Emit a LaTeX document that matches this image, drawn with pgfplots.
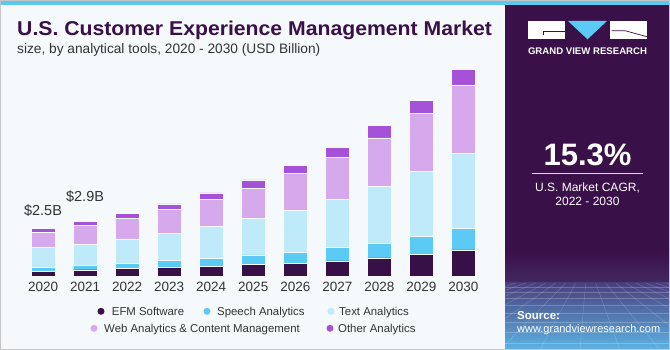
\documentclass[border=0pt]{standalone}
\usepackage{pgfplots}
\pgfplotsset{compat=1.18}
\usepackage{pgfplotstable}
\usepackage{fontspec}
\setmainfont{Liberation Sans}
\definecolor{efm}{HTML}{371047}
\definecolor{speech}{HTML}{5BCBF5}
\definecolor{textan}{HTML}{BEEAF9}
\definecolor{web}{HTML}{D5A9EC}
\definecolor{other}{HTML}{A652D8}
\definecolor{panel}{HTML}{3A1048}
\definecolor{bg}{HTML}{F5F9FC}
\definecolor{stripe}{HTML}{5BC8F0}
\definecolor{txt}{HTML}{333333}
\definecolor{gridtop}{HTML}{4A3F7E}
\definecolor{gridbot}{HTML}{5DB4E4}
\definecolor{midp}{HTML}{432860}

\pgfplotstableread{
x  efm  speech text web  other
0  0.26 0.19   1.07 0.77 0.23
1  0.33 0.23   1.11 0.98 0.21
2  0.40 0.28   1.28 1.09 0.23
3  0.45 0.37   1.44 1.26 0.28
4  0.51 0.42   1.68 1.42 0.34
5  0.62 0.49   1.91 1.60 0.44
6  0.68 0.58   2.21 1.93 0.44
7  0.79 0.72   2.54 2.21 0.51
8  0.96 0.77   3.00 2.54 0.65
9  1.14 0.96   3.42 3.04 0.70
10 1.37 1.12   3.98 3.59 0.81
}\data

\begin{document}
\begin{tikzpicture}[x=1pt,y=1pt]
\useasboundingbox (0,0) rectangle (670,350);
\fill[bg] (0,0) rectangle (670,350);
% right panel
\fill[panel] (505,0) rectangle (670,350);
\shade[top color=panel, bottom color=midp] (505,67) rectangle (670,100);
\shade[top color=gridtop, bottom color=gridbot] (505,0) rectangle (670,67);
\begin{scope}
\clip (505,0) rectangle (670,67);
\foreach \yy in {63,58,52,45,37,28,18,7} \draw[white,opacity=.22,line width=.4pt] (505,\yy)--(670,\yy);
\foreach \xx in {-300,-260,...,900} \draw[white,opacity=.22,line width=.4pt] ({587.5+(\xx-587.5)*0.25},67) -- (\xx,0);
\end{scope}
\fill[stripe] (0,345) rectangle (670,350);
\draw[gray!45, line width=1pt] (0.5,0.5) rectangle (669.5,349.5);

% logo
\fill[white] (528,310.7) rectangle (565,329);
\fill[speech] (568,329) -- (607,329) -- (587.5,310.7) -- cycle;
\fill[white] (610,310.7) rectangle (647,329);
\draw[panel,line width=.7pt] (543,314.5) -- (543,318.3) -- (565,318.3);
\draw[panel,line width=.7pt] (611.5,319.3) -- (625,319.3) -- (647,313.3);
\node[anchor=base,inner sep=0,text=white] at (587.5,295) {\resizebox{119pt}{!}{\fontsize{9}{9}\selectfont\bfseries GRAND VIEW RESEARCH}};

% CAGR
\node[anchor=base,inner sep=0,text=white] at (587.5,184) {\fontsize{31}{31}\selectfont\bfseries 15.3\%};
\draw[white!85!panel,line width=1pt] (532,176.7) -- (643,176.7);
\node[anchor=base,inner sep=0,text=white] at (587.5,158.4) {\fontsize{12}{12}\selectfont U.S. Market CAGR,};
\node[anchor=base,inner sep=0,text=white] at (587.5,144) {\fontsize{12}{12}\selectfont 2022 - 2030};
\node[anchor=base west,inner sep=0,text=white] at (517,30) {\fontsize{11.5}{12}\selectfont\bfseries Source:};
\node[anchor=base west,inner sep=0,text=white] at (517,17.3) {\fontsize{11}{12}\selectfont www.grandviewresearch.com};

% titles
\node[anchor=base west,inner sep=0,text=panel] at (17,314) {\scalebox{1.06}[1]{\fontsize{20}{20}\selectfont\bfseries U.S. Customer Experience Management Market}};
\node[anchor=base west,inner sep=0,text=txt] at (17,296.7) {\fontsize{13.7}{14}\selectfont size, by analytical tools, 2020 - 2030 (USD Billion)};

% legend
\begin{scope}[every node/.style={anchor=base west,inner sep=0,text=txt,font=\fontsize{11.4}{12}\selectfont}]
\fill[efm] (101,38.7) circle (3.5);   \node at (111.7,34.7) {EFM Software};
\fill[speech] (207,38.7) circle (3.5); \node at (217,34.7) {Speech Analytics};
\fill[textan] (331,38.7) circle (3.5); \node at (339,34.7) {Text Analytics};
\fill[web] (94,21.7) circle (3.5);    \node at (104,17.7) {Web Analytics \& Content Management};
\fill[other] (330,21.7) circle (3.5); \node at (338,17.7) {Other Analytics};
\end{scope}

\begin{axis}[at={(22pt,74pt)}, anchor=south west, scale only axis,
  width=462.5pt, height=218.5pt,
  xmin=-0.5, xmax=10.5, ymin=0, ymax=11.5,
  ybar stacked, bar width=24pt,
  axis line style={draw=none}, major tick length=0pt,
  ytick=\empty, xtick=data,
  xticklabels={2020,2021,2022,2023,2024,2025,2026,2027,2028,2029,2030},
  xticklabel style={font=\fontsize{13.5}{13.5}\selectfont, text=txt, yshift=-3pt},
  /pgf/number format/assume math mode=true,
  clip=false]
\addplot[fill=efm, draw=bg, line width=.4pt] table[x=x,y=efm]{\data};
\addplot[fill=speech, draw=bg, line width=.4pt] table[x=x,y=speech]{\data};
\addplot[fill=textan, draw=bg, line width=.4pt] table[x=x,y=text]{\data};
\addplot[fill=web, draw=bg, line width=.4pt] table[x=x,y=web]{\data};
\addplot[fill=other, draw=bg, line width=.4pt] table[x=x,y=other]{\data};
\node[text=txt,font=\fontsize{14.5}{15}\selectfont] at (axis cs:0,2.52) [yshift=17pt] {\$2.5B};
\node[text=txt,font=\fontsize{14.5}{15}\selectfont] at (axis cs:1,2.86) [yshift=25pt] {\$2.9B};
\end{axis}
\end{tikzpicture}
\end{document}
